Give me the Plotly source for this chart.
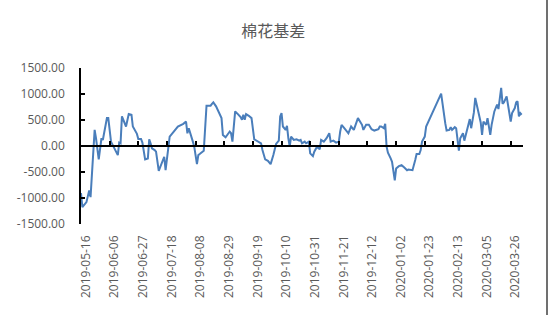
import plotly.graph_objects as go
import pandas as pd

dates = [
    "2019-05-16", "2019-05-17", "2019-05-20", "2019-05-22", "2019-05-23", "2019-05-26", "2019-05-27",
    "2019-05-29", "2019-05-31", "2019-06-01", "2019-06-04", "2019-06-05", "2019-06-07", "2019-06-09",
    "2019-06-12", "2019-06-13", "2019-06-14", "2019-06-15", "2019-06-18", "2019-06-20", "2019-06-22",
    "2019-06-23", "2019-06-26", "2019-06-27", "2019-06-29", "2019-06-30", "2019-07-02", "2019-07-04",
    "2019-07-05", "2019-07-06", "2019-07-07", "2019-07-09", "2019-07-10", "2019-07-12", "2019-07-15",
    "2019-07-16", "2019-07-17", "2019-07-20", "2019-07-23", "2019-07-26", "2019-07-30", "2019-08-01",
    "2019-08-02", "2019-08-03", "2019-08-06", "2019-08-07", "2019-08-09", "2019-08-10", "2019-08-11",
    "2019-08-14", "2019-08-16", "2019-08-19", "2019-08-20", "2019-08-21", "2019-08-23", "2019-08-27",
    "2019-08-28", "2019-08-30", "2019-09-02", "2019-09-03", "2019-09-04", "2019-09-06", "2019-09-08",
    "2019-09-10", "2019-09-11", "2019-09-12", "2019-09-13", "2019-09-14", "2019-09-16", "2019-09-18",
    "2019-09-20", "2019-09-22", "2019-09-25", "2019-09-26", "2019-09-28", "2019-09-30", "2019-10-02",
    "2019-10-04", "2019-10-06", "2019-10-08", "2019-10-09", "2019-10-10", "2019-10-11", "2019-10-13",
    "2019-10-14", "2019-10-15", "2019-10-16", "2019-10-17", "2019-10-19", "2019-10-21", "2019-10-23",
    "2019-10-24", "2019-10-25", "2019-10-27", "2019-10-28", "2019-10-30", "2019-10-31", "2019-11-02",
    "2019-11-03", "2019-11-05", "2019-11-07", "2019-11-08", "2019-11-10", "2019-11-12", "2019-11-14",
    "2019-11-15", "2019-11-17", "2019-11-19", "2019-11-21", "2019-11-22", "2019-11-23", "2019-11-25",
    "2019-11-28", "2019-11-30", "2019-12-02", "2019-12-05", "2019-12-08", "2019-12-09", "2019-12-11",
    "2019-12-13", "2019-12-15", "2019-12-17", "2019-12-20", "2019-12-21", "2019-12-22", "2019-12-24",
    "2019-12-25", "2019-12-26", "2019-12-27", "2019-12-29", "2019-12-30", "2020-01-01", "2020-01-02",
    "2020-01-04", "2020-01-06", "2020-01-08", "2020-01-10", "2020-01-11", "2020-01-13", "2020-01-14",
    "2020-01-16", "2020-01-17", "2020-01-19", "2020-01-20", "2020-01-21", "2020-01-23", "2020-01-24",
    "2020-02-04", "2020-02-07", "2020-02-08", "2020-02-10", "2020-02-11", "2020-02-12", "2020-02-14",
    "2020-02-15", "2020-02-16", "2020-02-17", "2020-02-18", "2020-02-20", "2020-02-21", "2020-02-22",
    "2020-02-24", "2020-02-25", "2020-02-26", "2020-02-28", "2020-02-29", "2020-03-02", "2020-03-03",
    "2020-03-04", "2020-03-05", "2020-03-06", "2020-03-08", "2020-03-09", "2020-03-11", "2020-03-12",
    "2020-03-14", "2020-03-16", "2020-03-17", "2020-03-18", "2020-03-19", "2020-03-20", "2020-03-21",
    "2020-03-23", "2020-03-24", "2020-03-26", "2020-03-27", "2020-03-29", "2020-03-30", "2020-03-31",
    "2020-04-01", "2020-04-02", "2020-04-03",
]

basis = [
    -905, -1177, -1080, -853, -983, 310, 149,
    -258, 149, 116, 537, 537, 84, -26,
    -175, 65, 52, 569, 375, 615, 601,
    375, 233, 136, 136, 65, -258, -239,
    130, 52, -45, -78, -110, -478, -271,
    -207, -465, 181, 278, 375, 426, 471,
    245, 342, 84, -13, -349, -175, -155,
    -90, 775, 775, 809, 840, 763, 537,
    213, 168, 278, 245, 84, 665, 614,
    556, 504, 600, 504, 614, 581, 536,
    129, 103, 52, -78, -258, -284, -349,
    -175, 39, 103, 568, 633, 375, 310,
    388, 149, -13, 181, 116, 129, 103,
    116, 52, 84, 52, 84, -142, -194,
    -110, -13, -65, 116, 84, 149, 245,
    84, 103, 65, 84, 278, 407, 342,
    245, 375, 310, 536, 407, 310, 407,
    407, 323, 297, 323, 375, 375, 342,
    426, -13, -129, -239, -304, -659, -433,
    -388, -368, -413, -465, -452, -465, -465,
    -271, -155, -155, -78, 84, 181, 375,
    1008, 439, 297, 310, 362, 310, 362,
    342, 168, -90, 149, 245, 103, 213,
    407, 517, 342, 646, 924, 698, 536,
    452, 213, 471, 407, 536, 213, 407,
    665, 795, 711, 924, 1118, 814, 840,
    956, 762, 471, 633, 730, 840, 859,
    568, 633, 601,
]

x_tick_dates = [
    "2019-05-16", "2019-06-06", "2019-06-27", "2019-07-18", "2019-08-08",
    "2019-08-29", "2019-09-19", "2019-10-10", "2019-10-31", "2019-11-21",
    "2019-12-12", "2020-01-02", "2020-01-23", "2020-02-13", "2020-03-05",
    "2020-03-26",
]
y_tick_vals = [1500, 1000, 500, 0, -500, -1000, -1500]
y_tick_text = ["1500.00", "1000.00", "500.00", "0.00", "-500.00", "-1000.00", "-1500.00"]

title_text = "棉花基差"
x_range = ["2019-05-16", "2020-04-04"]

# labels sit slightly right of their tick marks in the reference
label_positions = [
    (pd.Timestamp(d) + pd.Timedelta(hours=84)).strftime("%Y-%m-%d %H:%M") for d in x_tick_dates
]

grey = "#595959"
font_fam = "Open Sans, Liberation Sans, sans-serif"

fig = go.Figure()
fig.add_trace(go.Scatter(
    x=dates, y=basis, mode="lines",
    line=dict(color="#4A7EBB", width=2),
    showlegend=False, hoverinfo="x+y",
))
# invisible copy so the zero-crossing axis is drawn
fig.add_trace(go.Scatter(
    x=dates, y=basis, mode="lines", xaxis="x2",
    line=dict(color="rgba(0,0,0,0)", width=0),
    showlegend=False, hoverinfo="skip",
))

fig.update_layout(
    width=550, height=315,
    margin=dict(l=81, r=27, t=68, b=91),
    paper_bgcolor="white", plot_bgcolor="white",
    title=dict(
        text=title_text, x=0.497, xref="container", xanchor="center",
        y=0.9, yref="container", yanchor="middle",
        font=dict(family="Noto Sans CJK SC", size=16, color=grey),
    ),
    xaxis=dict(
        type="date", range=x_range,
        tickvals=label_positions, ticktext=x_tick_dates,
        tickangle=-90, ticks="", showline=False, showgrid=False, zeroline=False,
        ticklabelstandoff=8,
        tickfont=dict(family=font_fam, size=12, color=grey),
    ),
    xaxis2=dict(
        type="date", range=x_range, overlaying="x", anchor="free", position=0.5,
        side="bottom", tickvals=x_tick_dates, showticklabels=False,
        ticks="inside", ticklen=4, tickwidth=1.5, tickcolor="black",
        showline=True, linecolor="black", linewidth=1.5,
        showgrid=False, zeroline=False,
    ),
    yaxis=dict(
        range=[-1500, 1500], tickvals=y_tick_vals, ticktext=y_tick_text,
        ticks="inside", ticklen=4, tickwidth=1.5, tickcolor="black",
        showline=True, linecolor="black", linewidth=1.5,
        showgrid=False, zeroline=False,
        ticklabelstandoff=12,
        tickfont=dict(family=font_fam, size=12, color=grey),
    ),
    shapes=[dict(
        type="line", xref="paper", yref="paper",
        x0=1.0543, x1=1.0543, y0=-0.6, y1=1.5,
        line=dict(color="#404040", width=1.5),
    )],
)

fig.write_html("out.html")
